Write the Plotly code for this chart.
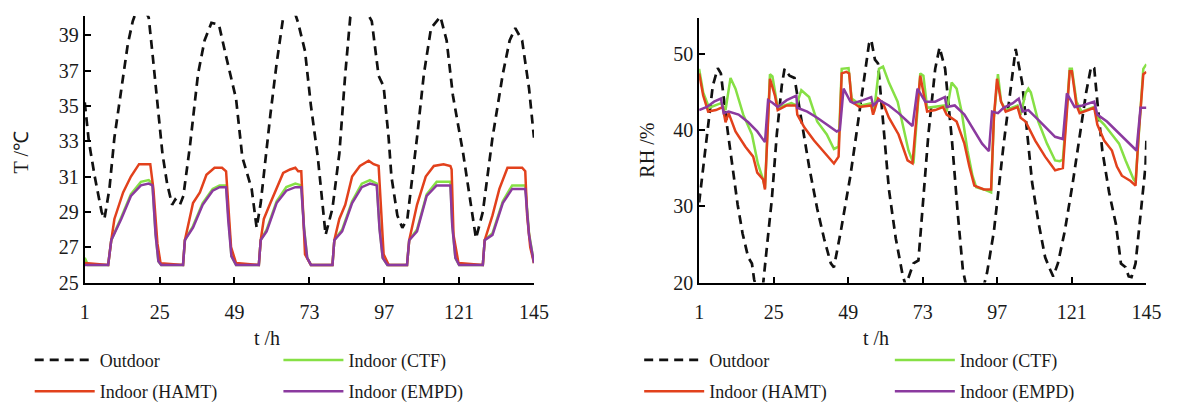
import plotly.graph_objects as go

# ---------------- Left panel: temperature ----------------
t_T_out = [1, 2.3, 4.2, 6.4, 7.3, 8.9, 10.5, 12.7, 14.8, 16.4, 18, 19.5, 21.5, 22.8, 24.3,
           25.9, 27.4, 29, 30, 31.5, 32.6, 34.7, 37.3, 39.4, 41.6, 44, 46.3, 49.5, 51.5, 54.5,
           56.1, 57.4, 60.5, 62.5, 64.6, 67, 69.4, 71.6, 73.5, 75.7, 78.2, 80.4, 82.6, 84.5, 86.1,
           89.5, 93, 95.2, 96.8, 98.4, 99.3, 101.2, 102.8, 104.4, 107.5, 109.7, 112, 115, 117, 119,
           122.3, 124.8, 126.4, 128.6, 131.7, 135, 137.2, 139, 141.2, 143.4, 145]
T_out = [35.2, 33.0, 31.0, 29.0, 28.6, 30.3, 33.2, 36.0, 38.5, 39.8, 40.6, 40.7, 40.0, 37.8, 35.2,
         32.3, 30.6, 29.4, 29.7, 29.4, 29.9, 32.7, 36.8, 38.7, 39.7, 39.6, 37.8, 35.4, 32.1, 30.3,
         28.1, 29.5, 34.5, 37.4, 40.0, 41.0, 39.7, 38.1, 35.0, 32.1, 27.7, 29.2, 32.3, 36.8, 40.0,
         40.9, 39.8, 36.7, 36.1, 33.2, 31.0, 28.8, 28.1, 28.6, 33.2, 36.8, 39.4, 40.05, 38.7, 35.6,
         32.3, 29.5, 27.5, 29.0, 33.2, 36.8, 38.7, 39.4, 38.7, 36.0, 33.2]

t_T_hamt = [1, 8.5, 9.5, 10.5, 13.3, 15.8, 18.4, 22, 23, 24.3, 25.3, 32.5, 33.1, 35.7, 37.9,
            40, 42.6, 45, 46.3, 47.9, 49.5, 56.8, 57.4, 58.4, 60.5, 63, 64.6, 66.8, 68.5, 69.4,
            70.4, 71.6, 73.5, 80.4, 81, 82.6, 84.5, 86.7, 89.2, 92, 93.6, 95.2, 96.8, 98.4, 104.3,
            105, 107.5, 110.3, 112.9, 116, 118.2, 118.6, 119.2, 120.8, 128.6, 129.2, 131.7, 133.9,
            136.5, 141.2, 142.2, 142.8, 143.8, 145]
T_hamt = [26.1, 26.0, 27.4, 28.6, 30.1, 31.0, 31.7, 31.7, 30.3, 27.2, 26.1, 26.0, 27.4, 29.5, 30.1,
          31.1, 31.5, 31.5, 31.3, 27.0, 26.1, 26.0, 27.4, 28.6, 29.5, 30.6, 31.2, 31.4, 31.5, 31.3,
          31.3, 26.6, 26.0, 26.0, 27.4, 28.6, 29.4, 31.0, 31.6, 31.9, 31.7, 31.6, 26.6, 26.0, 26.0,
          27.4, 29.4, 31.0, 31.6, 31.7, 31.6, 31.4, 27.7, 26.1, 26.0, 27.4, 28.8, 30.3,
          31.5, 31.5, 31.3, 28.8, 27.0, 26.1]

t_T_empd = [1, 8.5, 9.5, 12.7, 15.8, 19, 21.5, 22.7, 23.7, 24.6, 25.5, 32.5, 33.1, 35.7, 38.8,
            42, 44.2, 46.3, 47, 48, 49.5, 56.8, 57.4, 59.3, 62.5, 65.6, 68.5, 70.4, 71.3, 72.3,
            73.5, 80.4, 81, 83.5, 86.7, 89.8, 92.4, 94.6, 95.5, 96.5, 98, 104.3, 105, 107.5, 110.6,
            113.8, 118.2, 118.8, 119.8, 121, 128.6, 129.2, 131.7, 135, 138, 142.2, 143.4, 145]
T_empd = [26.0, 26.0, 27.4, 28.6, 29.9, 30.5, 30.6, 30.5, 27.7, 26.2, 26.0, 26.0, 27.4, 28.1, 29.4,
          30.2, 30.4, 30.4, 28.5, 26.5, 26.0, 26.0, 27.4, 27.9, 29.5, 30.2, 30.4, 30.4, 28.0, 26.4,
          26.0, 26.0, 27.4, 27.9, 29.5, 30.4, 30.6, 30.5, 28.0, 26.4, 26.0, 26.0, 27.4, 27.9, 29.9,
          30.5, 30.5, 28.2, 26.4, 26.0, 26.0, 27.4, 27.7, 29.5, 30.3, 30.3, 27.7, 26.1]

t_T_ctf = [1, 2, 8.5, 9.5, 12.7, 15.8, 19, 21.5, 22.7, 23.7, 24.6, 25.5, 32.5, 33.1, 35.7, 38.8,
           42, 44.2, 46.3, 47, 48, 49.5, 56.8, 57.4, 59.3, 62.5, 65.6, 68.5, 70.4, 71.3, 72.3,
           73.5, 80.4, 81, 83.5, 86.7, 89.8, 92.4, 94.6, 95.5, 96.5, 98, 104.3, 105, 107.5, 110.6,
           113.8, 118.2, 118.8, 119.8, 121, 128.6, 129.2, 131.7, 135, 138, 142.2, 143.4, 145]
T_ctf = [26.4, 26.0, 26.0, 27.4, 28.7, 30.0, 30.7, 30.8, 30.6, 27.8, 26.2, 26.0, 26.0, 27.4, 28.2, 29.5,
         30.3, 30.5, 30.5, 28.6, 26.5, 26.0, 26.0, 27.4, 28.0, 29.6, 30.4, 30.6, 30.5, 28.1, 26.4,
         26.0, 26.0, 27.4, 28.0, 29.6, 30.6, 30.8, 30.6, 28.1, 26.4, 26.0, 26.0, 27.4, 28.0, 30.0,
         30.7, 30.7, 28.3, 26.4, 26.0, 26.0, 27.4, 27.8, 29.6, 30.5, 30.5, 27.8, 26.1]

# ---------------- Right panel: relative humidity ----------------
t_RH_out = [1, 2.3, 3.9, 5.4, 7, 8, 10.2, 11.8, 13.4, 15, 16.8, 18, 18.7, 20, 21.6,
            22.8, 24.4, 26, 27.6, 28.5, 30.1, 31.7, 32.6, 34.2, 36.4, 39, 41.2, 43.4, 44.4, 46.6,
            48.2, 49.7, 51.6, 53.8, 55.7, 56.4, 57.6, 58.6, 60.2, 62.1, 64.3, 66.5, 67.5, 68.4, 70,
            71.6, 73.2, 74.8, 77, 78.4, 80.2, 82.4, 84.3, 85.9, 87, 89, 92, 93.7, 95.9, 97.5,
            99, 101.3, 102.9, 105, 106.6, 108.2, 110.2, 112.4, 114, 115, 116.5, 118.7, 121.3, 123.5,
            125.6, 127.2, 128.2, 129.2, 130.8, 133, 135.2, 136.8, 138.3, 139.3, 140.2, 141.5, 143.1,
            144.7, 145]
RH_out = [30.5, 35.2, 40.7, 45.8, 48.1, 47.4, 39.8, 35.2, 30.2, 26.4, 23.3, 22.5, 20.4, 18.5, 19.8,
          24.6, 30.9, 39.4, 45.8, 48.0, 47.1, 46.8, 44.5, 40.3, 35.2, 29.7, 25.8, 22.5, 22.0, 26.7,
          30.2, 34.0, 39.4, 45.8, 51.3, 51.8, 49.2, 48.7, 41.6, 32.2, 25.8, 21.0, 19.6, 20.6, 22.5,
          22.9, 30.9, 39.4, 48.0, 50.8, 48.0, 38.6, 28.9, 21.7, 19.5, 17.5, 18.5, 21.3, 26.7, 33.0,
          38.0, 45.4, 50.6, 46.2, 39.4, 33.1, 28.0, 23.3, 21.7, 20.8, 22.5, 26.7, 33.1, 39.4,
          44.9, 48.3, 48.1, 43.7, 37.3, 31.8, 27.6, 22.5, 22.0, 20.8, 20.7, 22.5, 28.9,
          35.2, 38.6]

t_RH_hamt = [1, 2.3, 3.9, 6.4, 8.6, 9.5, 10.5, 12.7, 15.9, 18.4, 19.7, 21.6, 22.2, 23.8, 25.4,
             26.3, 29.2, 32.3, 32.6, 34.9, 38, 41.8, 44.4, 45.9, 46.9, 48.4, 49.3, 50.1, 52.6, 56.4,
             57, 58.6, 60.2, 62.1, 65.2, 68.1, 69.7, 71.3, 72.2, 73.2, 74.4, 77, 79.5, 80.7, 83.9,
             86.4, 88, 89.6, 92.7, 95, 95.9, 96.9, 98.2, 99.7, 103.5, 104.5, 106.1, 109.2, 112.4, 115.6,
             118.1, 119.4, 120.3, 121, 122.5, 123.5, 126, 128.2, 129.2, 131.4, 133.9, 135.5, 137.1,
             139.9, 141.5, 142.5, 144, 145]
RH_hamt = [47.4, 44.5, 42.4, 42.6, 43.0, 41.0, 42.2, 39.8, 37.8, 36.5, 34.4, 33.5, 32.2, 46.7, 44.5,
           42.6, 43.2, 43.2, 42.0, 40.3, 38.6, 36.9, 35.6, 36.5, 47.4, 47.6, 47.4, 43.7, 43.0, 43.2,
           42.0, 44.1, 43.5, 41.6, 39.4, 36.0, 35.6, 43.2, 47.1, 44.9, 42.4, 42.6, 43.0, 42.0, 41.1,
           38.2, 35.2, 32.7, 32.2, 32.2, 41.6, 46.7, 43.7, 42.4, 43.0, 41.6, 41.1, 38.6, 36.5, 34.7,
           35.0, 42.4, 47.7, 47.7, 43.2, 42.2, 42.6, 42.9, 40.7, 38.6, 37.3, 35.2, 34.0,
           33.3, 32.7, 39.4, 47.3, 47.6]

t_RH_ctf = [1, 2.3, 4.2, 8, 9.5, 11.1, 12.7, 15.2, 18, 19.9, 21.6, 22.2, 23.8, 24.6, 26.3,
            30.7, 32.3, 33.9, 36.4, 39, 42.1, 44.4, 45.9, 46.9, 49.1, 50.1, 53.2, 56.4, 57.3, 58.9,
            60.2, 62.1, 64.9, 66.5, 68.4, 70, 71.3, 72.2, 73.2, 74.4, 80.1, 80.7, 82.3, 83.9, 85.5,
            87.4, 89, 90.2, 92.7, 95, 95.9, 97.2, 98.2, 99.7, 103.5, 104.5, 106.1, 107, 107.8, 110.2,
            113, 115.6, 117.1, 118.1, 119.4, 120.3, 121, 122.5, 124.1, 128.2, 129.2, 131.4, 133.9,
            136.2, 138.3, 140.9, 141.5, 142.5, 144, 145]
RH_ctf = [48.0, 44.9, 42.9, 43.5, 42.6, 46.8, 45.4, 42.0, 39.4, 35.6, 33.5, 32.4, 47.3, 47.0, 42.9,
          43.5, 43.2, 45.2, 44.3, 41.1, 39.4, 37.5, 37.8, 48.0, 48.1, 44.1, 43.2, 43.5, 42.4, 48.0,
          48.3, 46.2, 43.7, 40.7, 37.3, 35.6, 43.2, 47.4, 47.1, 42.9, 43.2, 42.4, 46.2, 45.4, 42.4,
          37.3, 34.0, 32.5, 32.2, 31.8, 41.6, 47.3, 43.7, 42.6, 43.2, 42.0, 44.8, 45.4, 44.9, 41.1,
          38.2, 36.0, 35.9, 36.1, 42.9, 48.0, 48.0, 43.7, 42.4, 43.0, 41.6, 40.7, 39.4,
          38.2, 36.0, 33.5, 33.2, 39.4, 48.0, 48.6]

t_RH_empd = [1, 3.5, 5.8, 8, 8.9, 10.5, 13.7, 16.8, 19.7, 22.2, 23.2, 24.5, 26.3, 29.2, 32.3,
             32.6, 35.8, 39, 42.1, 45.3, 46.3, 47.5, 49.7, 50.7, 53.8, 56.4, 57, 58.9, 62.1, 65.2,
             68.1, 69.7, 71.3, 73.8, 77, 79.2, 80.1, 80.7, 83.3, 86.4, 89.6, 92.1, 94.3, 95.3, 97.2,
             99, 102, 103.9, 105.1, 107, 110.2, 113.3, 115.6, 118.1, 119.4, 121.9, 124.4, 128.2,
             129.2, 132.3, 135.5, 138.7, 141.8, 143.1, 145]
RH_empd = [42.6, 43.0, 43.7, 44.1, 42.2, 42.4, 42.0, 41.0, 39.8, 38.4, 43.9, 43.6, 43.0, 43.9, 44.5,
           42.9, 42.4, 41.6, 40.7, 39.8, 40.0, 45.4, 43.7, 43.5, 43.9, 44.3, 43.2, 43.9, 43.2, 42.2,
           41.1, 40.5, 45.4, 43.7, 43.7, 44.1, 44.3, 43.0, 43.2, 42.0, 39.8, 38.2, 37.2, 42.4, 42.2,
           42.9, 43.5, 44.1, 42.4, 42.6, 41.3, 40.1, 39.1, 38.8, 44.8, 43.0, 43.2, 43.7,
           42.0, 41.1, 39.8, 38.6, 37.3, 42.9, 42.9]

x_ticks = [1, 25, 49, 73, 97, 121, 145]
T_ticks = [25, 27, 29, 31, 33, 35, 37, 39]
RH_ticks = [20, 30, 40, 50]

colors = {"Outdoor": "#111111", "Indoor (CTF)": "#86E045",
          "Indoor (HAMT)": "#E2411C", "Indoor (EMPD)": "#8B3A9F"}

W, H = 1177, 402
SERIF = "Liberation Serif, Times New Roman, serif"

fig = go.Figure()

def add(t, v, name, xa, ya, legend):
    line = dict(color=colors[name], width=2.5)
    if name == "Outdoor":
        line["dash"] = "9px,6px"
        line["width"] = 2.7
    fig.add_trace(go.Scatter(x=t, y=v, mode="lines", name=name, line=line,
                             xaxis=xa, yaxis=ya, legend=legend,
                             legendgroup=legend + name, hoverinfo="skip"))

# left panel
add(t_T_out, T_out, "Outdoor", "x", "y", "legend")
add(t_T_ctf, T_ctf, "Indoor (CTF)", "x", "y", "legend2")
add(t_T_hamt, T_hamt, "Indoor (HAMT)", "x", "y", "legend")
add(t_T_empd, T_empd, "Indoor (EMPD)", "x", "y", "legend2")
# right panel
add(t_RH_out, RH_out, "Outdoor", "x2", "y2", "legend3")
add(t_RH_ctf, RH_ctf, "Indoor (CTF)", "x2", "y2", "legend4")
add(t_RH_hamt, RH_hamt, "Indoor (HAMT)", "x2", "y2", "legend3")
add(t_RH_empd, RH_empd, "Indoor (EMPD)", "x2", "y2", "legend4")

tickfont = dict(family=SERIF, size=20, color="#1a1a1a")
axis_common = dict(showline=True, linecolor="black", linewidth=2, showgrid=False,
                   zeroline=False, ticks="inside", ticklen=6, tickwidth=2,
                   tickcolor="black", tickfont=tickfont, fixedrange=True)

ybot = 1 - 283 / H
NB = "\u00a0"

fig.update_layout(
    width=W, height=H,
    margin=dict(l=0, r=0, t=0, b=0),
    paper_bgcolor="white", plot_bgcolor="white",
    showlegend=True,
    xaxis=dict(domain=[73 / W, 530 / W], range=[1, 145], tickvals=x_ticks,
               anchor="y", ticklabelstandoff=10, **axis_common),
    yaxis=dict(domain=[ybot, 1 - 8 / H], range=[25, 40.1], tickvals=T_ticks,
               ticksuffix=NB * 2 + "\u2009", anchor="x", **axis_common),
    xaxis2=dict(domain=[698 / W, 1153 / W], range=[1, 145], tickvals=x_ticks,
                anchor="y2", ticklabelstandoff=10, **axis_common),
    yaxis2=dict(domain=[ybot, 1 - 10 / H], range=[20, 54.7], tickvals=RH_ticks,
                anchor="x2", **axis_common),
)

legend_common = dict(orientation="v", xanchor="left", yanchor="top", itemwidth=60,
                     tracegroupgap=5,
                     font=dict(family=SERIF, size=18, color="#1a1a1a"),
                     bgcolor="rgba(0,0,0,0)", borderwidth=0, itemclick=False,
                     itemdoubleclick=False)
ly = 1 - 344 / H
fig.update_layout(
    legend=dict(x=17 / W, y=ly, **legend_common),
    legend2=dict(x=270 / W, y=ly, **legend_common),
    legend3=dict(x=637 / W, y=ly, **legend_common),
    legend4=dict(x=892 / W, y=ly, **legend_common),
)

title_font = dict(family=SERIF, size=20, color="#1a1a1a")
ann = [
    dict(text="t /h", x=258 / W, y=1 - 340 / H),
    dict(text="t /h", x=878 / W, y=1 - 340 / H),
    dict(text="T /℃", x=8 / W, y=1 - 149 / H, textangle=-90),
    dict(text="RH /%", x=645 / W, y=1 - 147 / H, textangle=-90),
]
for a in ann:
    fig.add_annotation(xref="paper", yref="paper", showarrow=False,
                       xanchor="center", yanchor="middle", font=title_font, **a)

fig.write_html("out.html")
